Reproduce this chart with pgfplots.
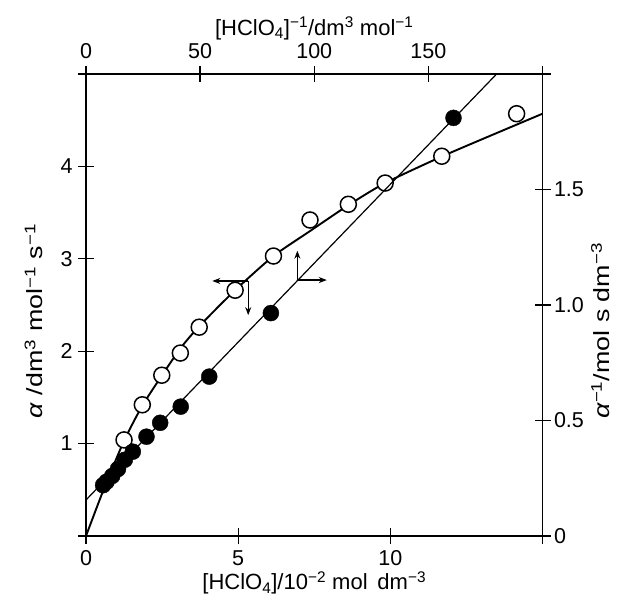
\documentclass[border=0pt]{standalone}
\usepackage{fontspec}
\setmainfont{Liberation Sans}
\usepackage{pgfplots}
\pgfplotsset{compat=1.18}
\usetikzlibrary{arrows.meta}

\newcommand{\sux}[1]{\textsuperscript{#1}}

\begin{document}
\begin{tikzpicture}
\pgfplotsset{
  every axis/.append style={
    scale only axis, width=456.5pt, height=462pt,
    at={(0,0)}, anchor=south west,
    tick align=center, major tick length=16pt,
    axis line style={line width=1.5pt},
    every tick/.style={line width=1.3pt, black},
    tick label style={font=\fontsize{21.5}{25}\selectfont},
    label style={font=\fontsize{22}{26}\selectfont},
    ylabel style={font=\fontsize{22}{26}\selectfont\addfontfeature{FakeStretch=1.22}},
    /pgf/number format/assume math mode=true,
    clip=false,
  },
}
% alpha against [HClO4] (open circles)
\begin{axis}[
  axis x line*=bottom, axis y line*=left,
  xmin=0, xmax=15, ymin=0, ymax=5,
  xtick={0,5,10,15}, xticklabels={0,5,10,},
  ytick={0,1,2,3,4,5}, yticklabels={,1,2,3,4,},
  xticklabel style={yshift=-3pt},
  yticklabel style={xshift=-2pt},
  xlabel={[HClO\textsubscript{4}]/10\sux{−2} mol\, dm\sux{−3}},
  ylabel={\textit{α} /dm\sux{3} mol\sux{−1} s\sux{−1}},
  xlabel style={at={(axis description cs:0.5,-0.116)}, anchor=base},
  ylabel style={at={(axis description cs:-0.0942,0.465)}, anchor=base},
]
\addplot[line width=1.9pt, smooth, tension=0.4] coordinates {
  (0,0) (0.6,0.52) (1.25,1.03) (1.85,1.41) (2.5,1.74) (3.1,2.03)
  (3.72,2.27) (4.9,2.66) (6.16,3.03) (7.36,3.30) (8.62,3.58)
  (9.83,3.82) (11.85,4.13) (15,4.57)
};
\addplot[only marks, mark=*, mark size=8pt,
  mark options={fill=white, draw=black, line width=1.5pt}] coordinates {
  (1.25,1.04) (1.85,1.42) (2.49,1.74) (3.1,1.98) (3.72,2.26) (4.9,2.66)
  (6.16,3.03) (7.36,3.42) (8.62,3.59) (9.83,3.82) (11.69,4.11) (14.15,4.57)
};
\draw[line width=1.4pt, -{Stealth[length=8pt,width=6pt]}]
  (axis cs:5.33,2.76) -- (axis cs:4.15,2.76);
\draw[line width=1.4pt, -{Stealth[length=8pt,width=6pt]}]
  (axis cs:5.33,2.76) -- (axis cs:5.33,2.39);
\end{axis}
% 1/alpha against 1/[HClO4] (filled circles)
\begin{axis}[
  axis x line*=top, axis y line*=right,
  xmin=0, xmax=200, ymin=0, ymax=2,
  xtick={0,50,100,150,200}, xticklabels={0,50,100,150,},
  ytick={0,0.5,1,1.5,2}, yticklabels={0,0.5,1.0,1.5,},
  xticklabel style={yshift=4pt},
  xlabel={[HClO\textsubscript{4}]\sux{−1}/dm\sux{3} mol\sux{−1}},
  ylabel={\textit{α}\sux{−1}/mol s dm\sux{−3}},
  xlabel style={at={(axis description cs:0.5,1.084)}, anchor=base},
  ylabel style={at={(axis description cs:1.1465,0.444)}, anchor=base},
]
\addplot[line width=1.2pt] coordinates {(0,0.156) (179.9,2.0)};
\addplot[only marks, mark=*, mark size=8pt, black] coordinates {
  (7.5,0.22) (9,0.235) (11.5,0.26) (14,0.29) (17,0.33) (20.5,0.365)
  (26.5,0.43) (32.5,0.49) (41.5,0.56) (54,0.69) (81,0.965) (161,1.81)
};
\draw[line width=1.4pt, -{Stealth[length=8pt,width=6pt]}]
  (axis cs:92.6,1.108) -- (axis cs:92.6,1.235);
\draw[line width=1.4pt, -{Stealth[length=8pt,width=6pt]}]
  (axis cs:92.6,1.108) -- (axis cs:105.5,1.108);
\end{axis}
\pgfresetboundingbox
\path (-86pt,-61pt) rectangle (532pt,536pt);
\end{tikzpicture}
\end{document}
